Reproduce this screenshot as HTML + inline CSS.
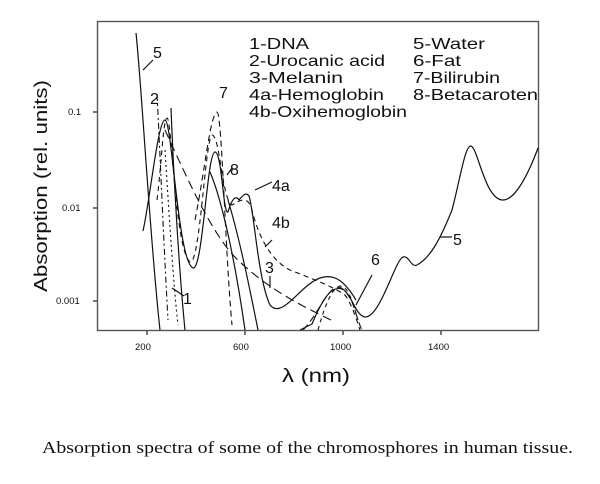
<!DOCTYPE html>
<html><head><meta charset="utf-8"><style>
html,body{margin:0;padding:0;background:#fff;}
svg{display:block;}
text{font-family:"Liberation Sans",sans-serif;fill:#111;}
</style></head><body>
<svg width="600" height="484" viewBox="0 0 600 484" xmlns="http://www.w3.org/2000/svg">
<rect x="97.5" y="21.5" width="441" height="309" fill="none" stroke="#555" stroke-width="1.4"/>
<g stroke="#333" stroke-width="1.3">
<line x1="147" y1="331" x2="147" y2="335"/><line x1="245" y1="331" x2="245" y2="335"/>
<line x1="343" y1="331" x2="343" y2="335"/><line x1="441" y1="331" x2="441" y2="335"/>
<line x1="93" y1="112" x2="97" y2="112"/><line x1="93" y1="208" x2="97" y2="208"/><line x1="93" y1="301" x2="97" y2="301"/>
</g>
<g font-size="9.5">
<text x="135" y="350">200</text><text x="233" y="350">600</text><text x="330" y="350">1000</text><text x="428" y="350">1400</text>
<text x="68" y="115">0.1</text><text x="62" y="211">0.01</text><text x="56" y="304">0.001</text>
</g>
<text x="0" y="0" font-size="18" textLength="212" lengthAdjust="spacingAndGlyphs" transform="translate(47,292) rotate(-90)">Absorption (rel. units)</text>
<text x="282" y="382" font-size="19" textLength="68" lengthAdjust="spacingAndGlyphs">λ (nm)</text>
<text x="42" y="453" font-size="17" textLength="531" lengthAdjust="spacingAndGlyphs" style="font-family:'Liberation Serif',serif">Absorption spectra of some of the chromosphores in human tissue.</text>
<g font-size="16">
<text x="249" y="49" textLength="60" lengthAdjust="spacingAndGlyphs">1-DNA</text>
<text x="249" y="66" textLength="136" lengthAdjust="spacingAndGlyphs">2-Urocanic acid</text>
<text x="249" y="83" textLength="94" lengthAdjust="spacingAndGlyphs">3-Melanin</text>
<text x="249" y="100" textLength="135" lengthAdjust="spacingAndGlyphs">4a-Hemoglobin</text>
<text x="249" y="117" textLength="158" lengthAdjust="spacingAndGlyphs">4b-Oxihemoglobin</text>
<text x="413" y="49" textLength="72" lengthAdjust="spacingAndGlyphs">5-Water</text>
<text x="413" y="66" textLength="48" lengthAdjust="spacingAndGlyphs">6-Fat</text>
<text x="413" y="83" textLength="87" lengthAdjust="spacingAndGlyphs">7-Bilirubin</text>
<text x="413" y="100" textLength="125" lengthAdjust="spacingAndGlyphs">8-Betacaroten</text>
</g>
<g font-size="16">
<text x="153" y="58">5</text><text x="150" y="104">2</text><text x="219" y="98">7</text><text x="230" y="175">8</text>
<text x="272" y="191">4a</text><text x="272" y="228">4b</text><text x="265" y="273">3</text><text x="183" y="304">1</text>
<text x="371" y="265">6</text><text x="453" y="245">5</text>
</g>
<g fill="none" stroke="#111" stroke-width="1.2">
<path d="M143,70 L153,60"/><path d="M227,175 L232,168"/><path d="M255,190 L272,182"/>
<path d="M265,247 L272,240"/><path d="M270,288 L270,276"/><path d="M172,288 L184,296"/>
<path d="M356,305 L372,275"/><path d="M440,237 L452,237"/>
<path d="M136,33 C142,90 150,240 160,330"/>
<path d="M300,330 L312,324 C322,300 332,283 344,290 C352,296 356,316 365,317 C380,318 395,260 403,257 C409,255 411,268 417,265 C430,258 440,240 452,210 C460,180 465,145 471,146 C478,148 485,200 503,200 C515,200 528,175 538,148"/>
<path d="M143,231 C150,200 158,120 165,120 C172,120 178,262 193,268 C203,270 207,152 215,152 C222,152 223,215 228,212 C232,198 236,195 239,200 C243,195 246,192 249,196 C254,210 258,280 270,305 C282,320 300,285 320,278 C335,273 345,282 356,300"/>
<path d="M171,108 C173,160 178,260 185,330"/>
<path d="M210,172 C222,200 235,260 245,330"/>
<path d="M228,200 C240,240 250,290 258,330"/>
</g>
<g fill="none" stroke="#111" stroke-width="1.1">
<path stroke-dasharray="9,5" d="M165,130 C190,185 215,240 240,262 C270,290 300,305 335,322"/>
<path stroke-dasharray="5,4" d="M157,200 C162,160 163,120 167,118 C172,118 175,250 190,262 C200,266 205,140 212,135 C220,135 222,200 232,205 C240,200 248,195 252,210 C258,235 270,260 290,270 C310,278 330,285 345,295 C352,305 356,318 360,330"/>
<path stroke-dasharray="6,4" d="M195,220 C205,170 210,115 217,112 C222,112 225,250 232,325"/>
<path stroke-dasharray="6,3,2,3" d="M157,95 C160,150 163,230 168,320"/>
<path stroke-dasharray="2,3" d="M165,150 C170,230 174,290 178,325"/>
<path stroke-dasharray="7,4" d="M303,330 C315,318 322,300 332,290 C340,283 346,290 352,302 C356,312 358,322 362,330"/>
<path stroke-dasharray="4,4" d="M318,330 C325,305 332,288 340,286 C348,286 352,300 358,320"/>
</g>
</svg>
</body></html>
